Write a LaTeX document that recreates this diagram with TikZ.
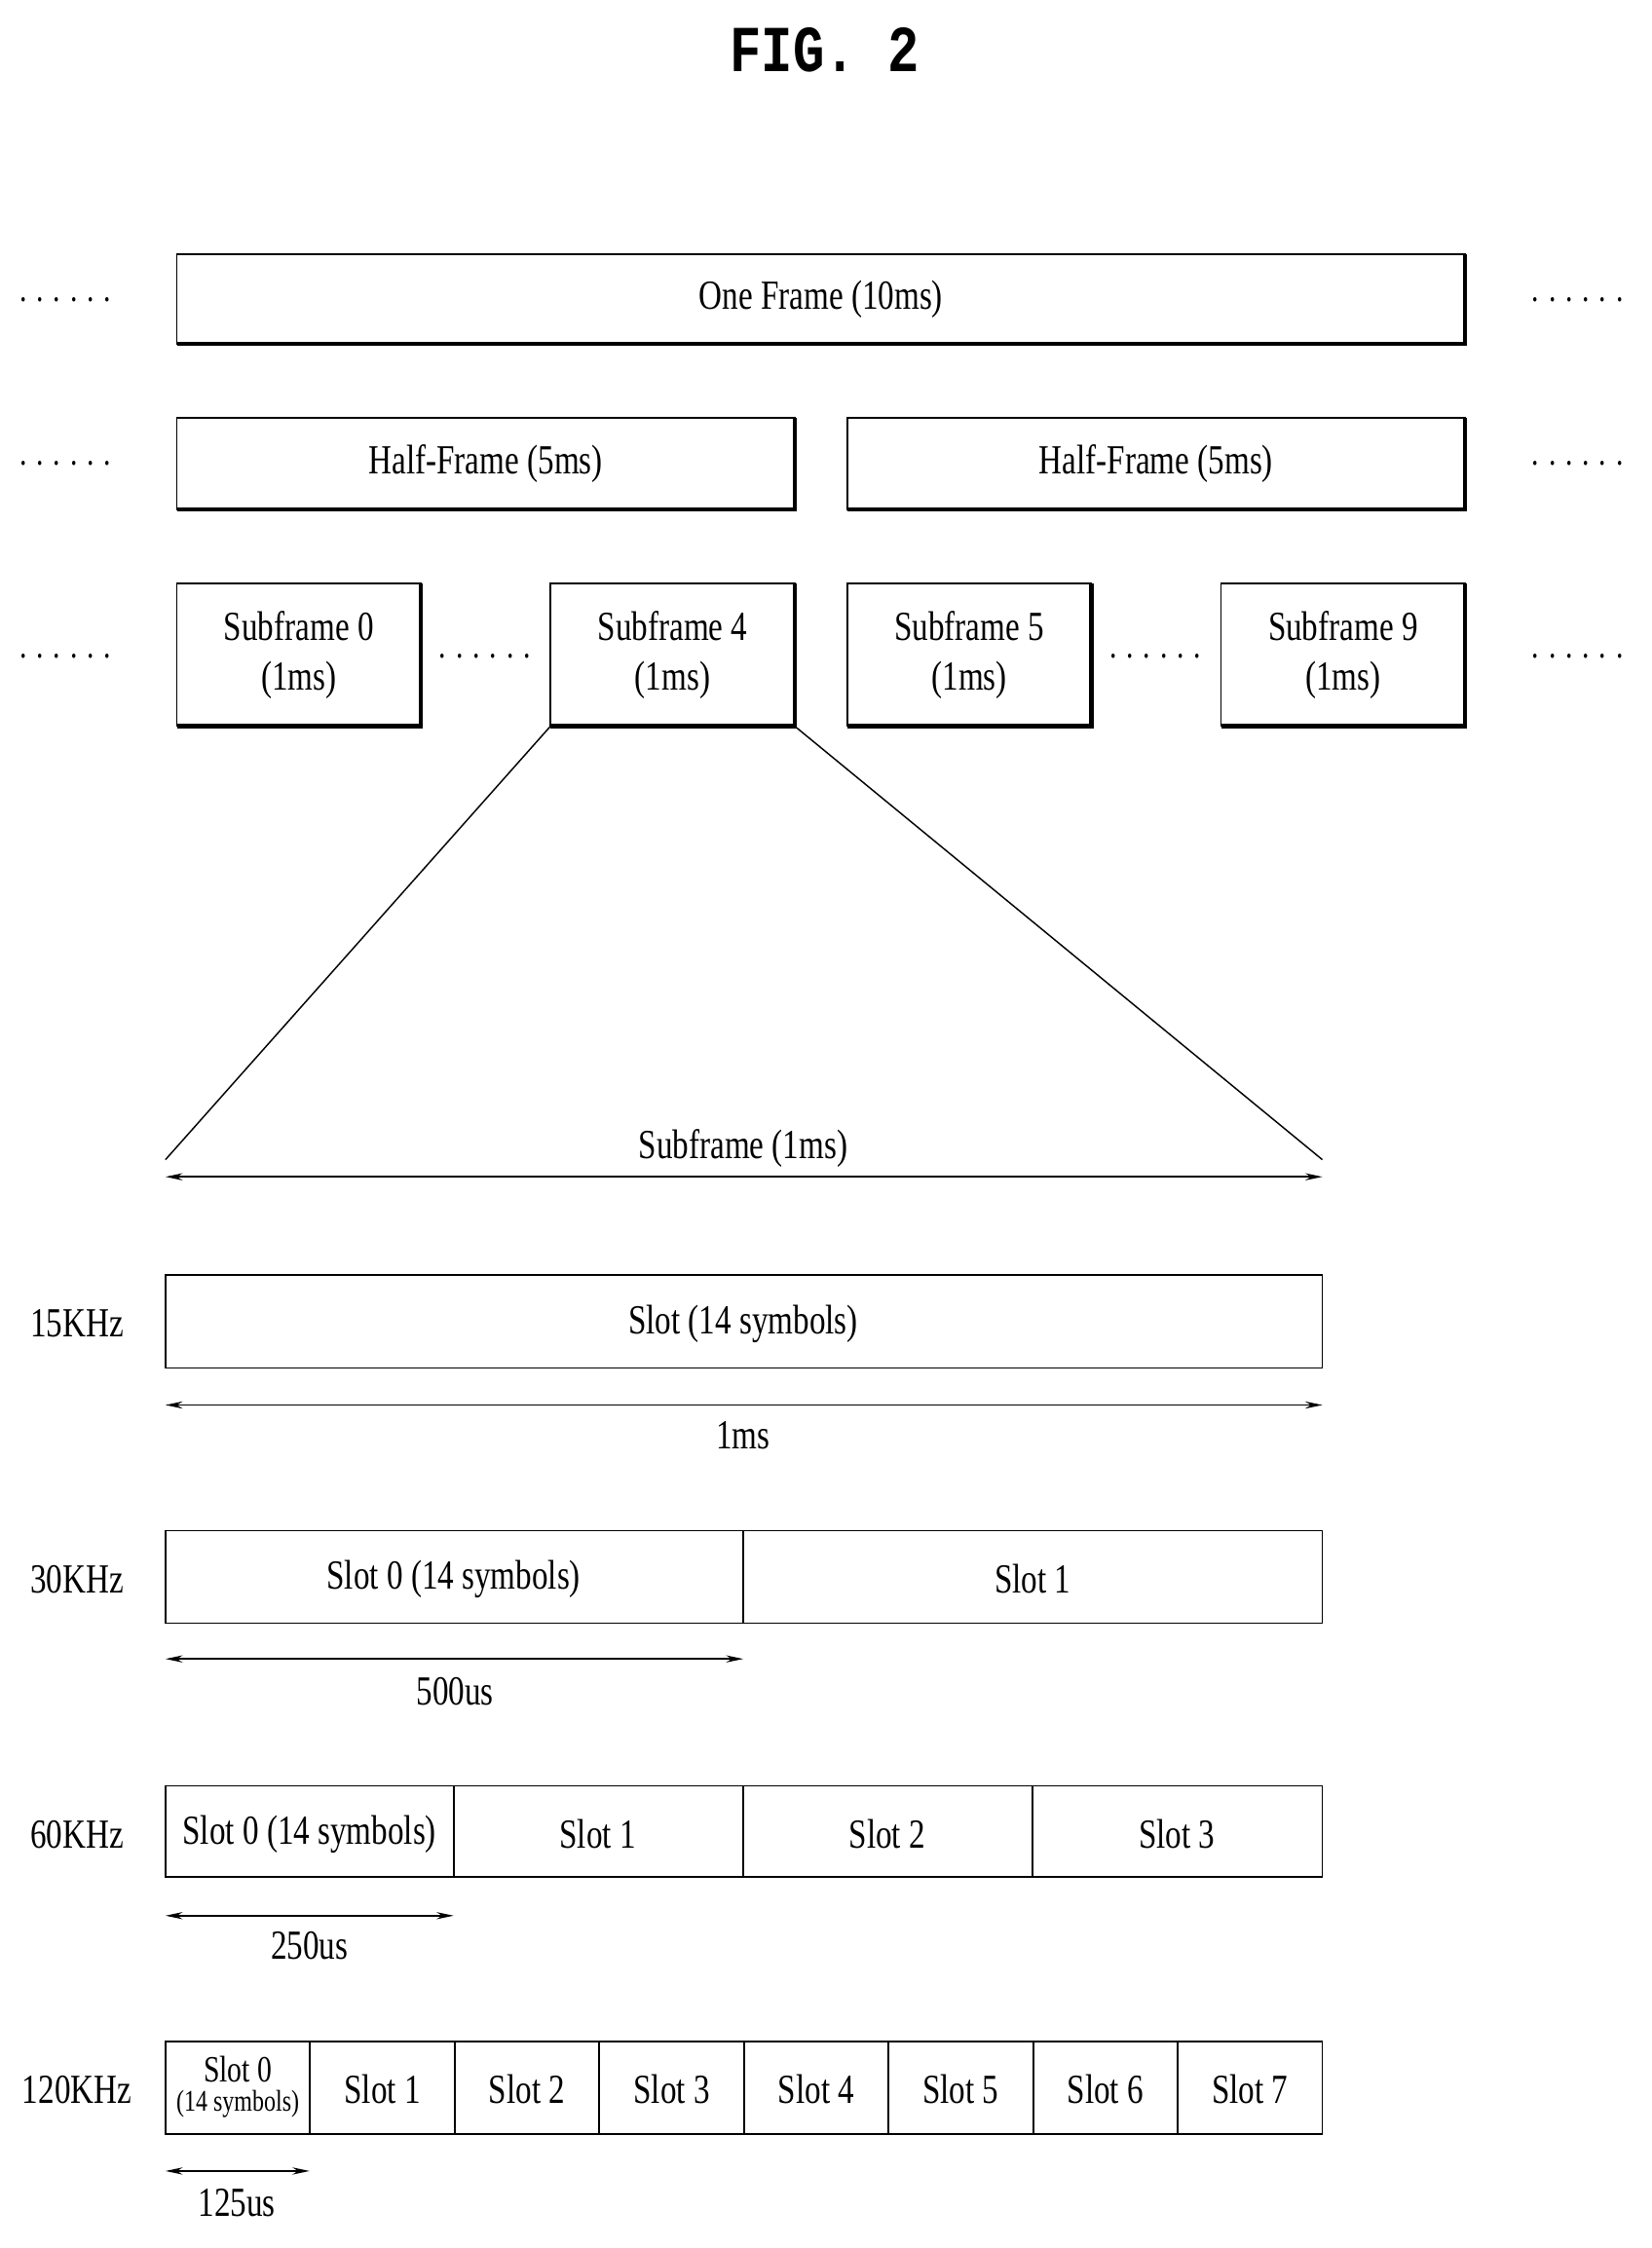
\documentclass[tikz,border=0pt]{standalone}
\usepackage{fontspec}
\setmainfont{Liberation Serif}[FakeStretch=0.78]
\newfontfamily\titlefont{Liberation Mono}[FakeStretch=0.8]
\usetikzlibrary{arrows.meta}
\begin{document}
\begin{tikzpicture}[x=1pt,y=-1pt,
  txt/.style={font=\fontsize{29}{31}\selectfont,inner sep=0},
  box/.style={draw,line width=1.2pt},
  sh/.style={line width=3pt},
  dim/.style={{Stealth[length=12pt,width=5pt]}-{Stealth[length=12pt,width=5pt]},line width=1pt},
  dots/.style={font=\fontsize{26}{28}\selectfont,inner sep=0}]
\useasboundingbox (0,0) rectangle (1158,1576);
\node[font=\titlefont\bfseries\fontsize{46}{48}\selectfont] (title) at (578,35) {FIG. 2};
% boxes with shadow edges
\newcommand{\shbox}[5]{%
  \draw[box] (#1,#2) rectangle (#3,#4);
  \draw[sh] (#1,#4) -- (#3,#4) -- (#3,#2);
  \node[txt,align=center] at ({(#1+#3)/2},{(#2+#4)/2}) {#5};}
\shbox{124}{178}{1027}{241}{One Frame (10ms)}
\shbox{124}{293}{557}{357}{Half-Frame (5ms)}
\shbox{594}{293}{1027}{357}{Half-Frame (5ms)}
\shbox{124}{409}{295}{509}{Subframe 0\\[4pt](1ms)}
\shbox{386}{409}{557}{509}{Subframe 4\\[4pt](1ms)}
\shbox{594}{409}{765}{509}{Subframe 5\\[4pt](1ms)}
\shbox{856}{409}{1027}{509}{Subframe 9\\[4pt](1ms)}
\foreach \y in {210,325,460}{
  \node[dots] at (46,\y) {. . . . . .};
  \node[dots] at (1106,\y) {. . . . . .};}
\node[dots] at (340,460) {. . . . . .};
\node[dots] at (810,460) {. . . . . .};
\coordinate (a) at (386,509); \coordinate (b) at (557,509);
\coordinate (c) at (116,813); \coordinate (d) at (927,813);
\draw[line width=1pt] (a) -- (c); \draw[line width=1pt] (b) -- (d);
\coordinate (e) at (116,825); \coordinate (f) at (927,825);
\draw[dim] (e) -- (f);
\node[txt] at (521,805) {Subframe (1ms)};
% rows
\node[txt] at (54,928) {15KHz};
\draw[box] (116,894) rectangle (927,959);
\node[txt] at (521,928) {Slot (14 symbols)};
\draw[dim] (116,985) -- (927,985);
\node[txt] at (521,1006) {1ms};
\node[txt] at (54,1107) {30KHz};
\draw[box] (116,1073) rectangle (927,1138);
\draw[box] (521,1073) -- (521,1138);
\node[txt] at (318,1107) {Slot 0 (14 symbols)};
\node[txt] at (724,1107) {Slot 1};
\draw[dim] (116,1163) -- (521,1163);
\node[txt] at (319,1186) {500us};
\node[txt] at (54,1286) {60KHz};
\draw[box] (116,1252) rectangle (927,1316);
\foreach \x in {318,521,724} \draw[box] (\x,1252) -- (\x,1316);
\node[txt] at (217,1286) {Slot 0 (14 symbols)};
\node[txt] at (419,1286) {Slot 1};
\node[txt] at (622,1286) {Slot 2};
\node[txt] at (825,1286) {Slot 3};
\draw[dim] (116,1343) -- (318,1343);
\node[txt] at (217,1364) {250us};
\node[txt] at (54,1465) {120KHz};
\draw[box] (116,1431) rectangle (927,1496);
\foreach \i in {1,...,7} \draw[box] ({116+\i*101.375},1431) -- ({116+\i*101.375},1496);
\node[txt,align=center,font=\fontsize{26}{22}\selectfont] at (166.7,1463) {Slot 0\\[-2pt]{\fontsize{21}{22}\selectfont(14 symbols)}};
\foreach \i in {1,...,7} \node[txt] at ({116+(\i+0.5)*101.375},1465) {Slot \i};
\draw[dim] (116,1522) -- (217,1522);
\node[txt] at (166,1544) {125us};
\end{tikzpicture}
\end{document}
